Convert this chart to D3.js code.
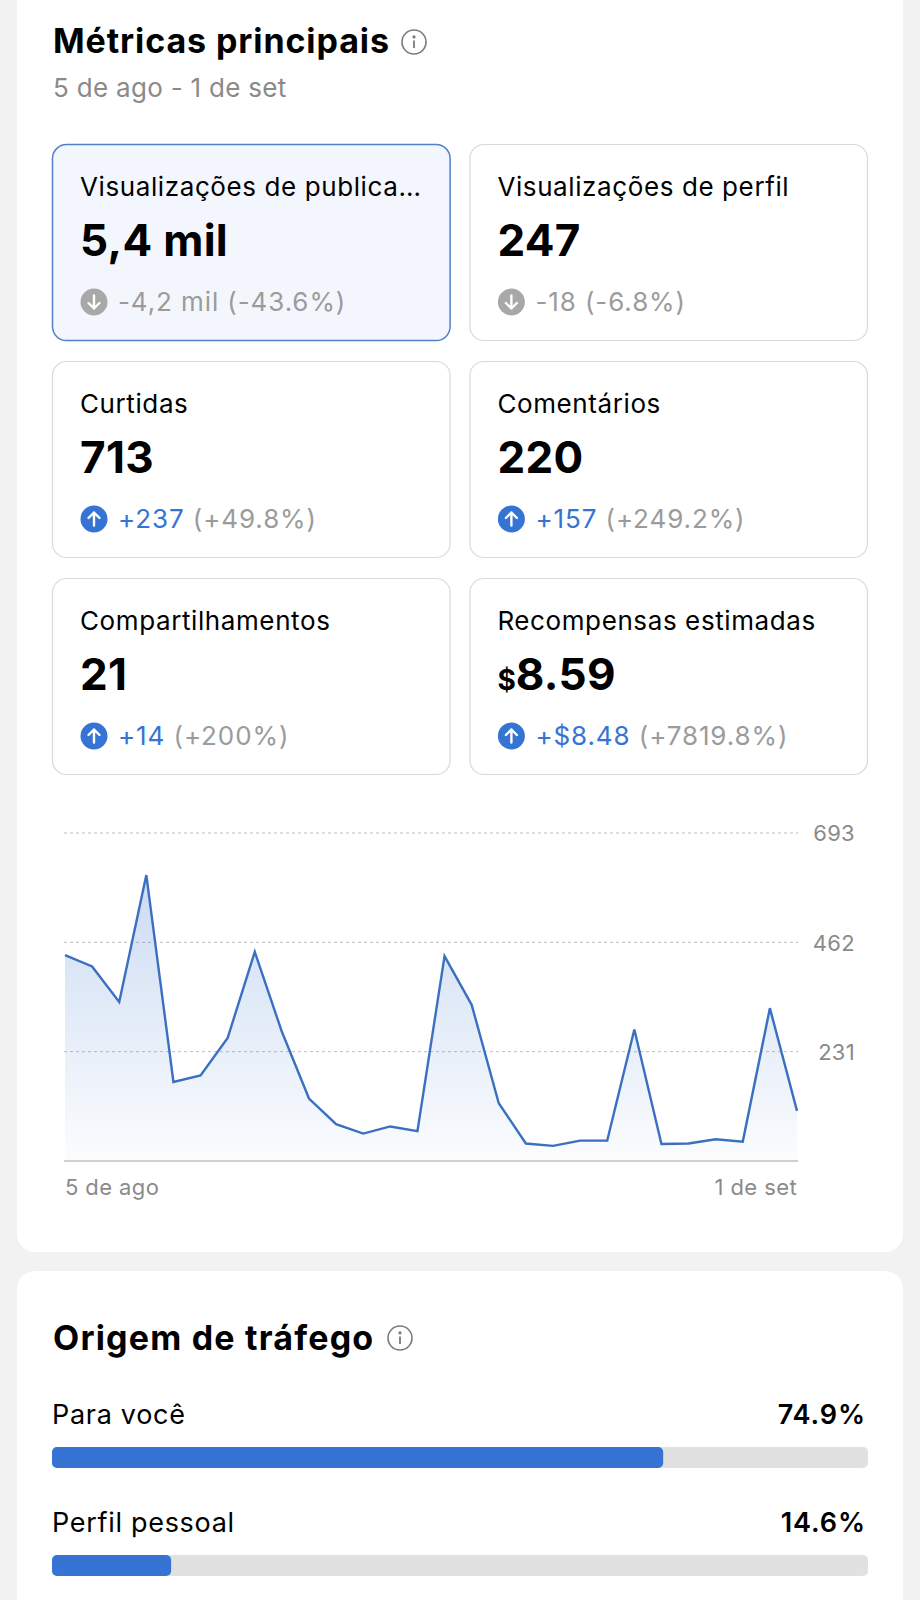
<!DOCTYPE html>
<html>
<head>
<meta charset="utf-8">
<script src="https://cdn.jsdelivr.net/npm/d3@7"></script>
<style>
  html, body { margin: 0; padding: 0; background: #f2f2f2; }
  svg { display: block; font-family: Inter, "Noto Sans", sans-serif; }
</style>
</head>
<body>
<div id="page"></div>
<script>
// ---- data ----
var dayLabels = ['05/08','06/08','07/08','08/08','09/08','10/08','11/08','12/08','13/08','14/08',
                 '15/08','16/08','17/08','18/08','19/08','20/08','21/08','22/08','23/08','24/08',
                 '25/08','26/08','27/08','28/08','29/08','30/08','31/08','01/09'];
var postViews = [435, 411, 336, 604, 167, 181, 260, 442, 273, 132,
                 78, 58, 73, 63, 433, 330, 122, 37, 32, 43,
                 43, 278, 36, 37, 46, 41, 323, 106];
var yTicks = [231, 462, 693];
var xTickLabels = ['5 de ago', '1 de set'];

var metricLabels = ['Visualizações de publica…', 'Visualizações de perfil', 'Curtidas',
                    'Comentários', 'Compartilhamentos', 'Recompensas estimadas'];
var metricValues = ['5,4 mil', '247', '713', '220', '21', '8.59'];
var metricDeltas = ['-4,2 mil', '-18', '+237', '+157', '+14', '+$8.48'];
var metricPcts = ['(-43.6%)', '(-6.8%)', '(+49.8%)', '(+249.2%)', '(+200%)', '(+7819.8%)'];

var trafficSources = ['Para você', 'Perfil pessoal'];
var trafficShares = [74.9, 14.6];

// ---- page ----
var width = 920;
var height = 1600;
var blue = '#3574d4';
var grey = '#9b9b9b';

var svg = d3.select('#page').append('svg')
    .attr('width', width)
    .attr('height', height);

var defs = svg.append('defs');
var grad = defs.append('linearGradient')
    .attr('id', 'areaFill')
    .attr('x1', 0).attr('y1', 0).attr('x2', 0).attr('y2', 1);
grad.append('stop').attr('offset', '0%').attr('stop-color', '#3a76cf').attr('stop-opacity', 0.26);
grad.append('stop').attr('offset', '100%').attr('stop-color', '#3a76cf').attr('stop-opacity', 0.02);

// panels
svg.append('rect')
    .attr('x', 17).attr('y', -30)
    .attr('width', 886).attr('height', 1282)
    .attr('rx', 18).attr('fill', '#fff');
svg.append('rect')
    .attr('x', 17).attr('y', 1271)
    .attr('width', 886).attr('height', 400)
    .attr('rx', 18).attr('fill', '#fff');

function infoIcon(cx, cy, r) {
    var g = svg.append('g').attr('transform', 'translate(' + cx + ',' + cy + ')');
    g.append('circle').attr('r', r).attr('fill', 'none')
        .attr('stroke', '#7a7a7a').attr('stroke-width', 1.6);
    g.append('circle').attr('cx', 0).attr('cy', -r * 0.42).attr('r', 1.6).attr('fill', '#7a7a7a');
    g.append('line').attr('x1', 0).attr('x2', 0)
        .attr('y1', -r * 0.12).attr('y2', r * 0.5)
        .attr('stroke', '#7a7a7a').attr('stroke-width', 1.8);
}

// header
svg.append('text')
    .attr('x', 53).attr('y', 53)
    .attr('font-size', 34).attr('font-weight', 700).attr('fill', '#000')
    .attr('letter-spacing', 0.9)
    .text('Métricas principais');
infoIcon(414, 42, 12);
svg.append('text')
    .attr('x', 53).attr('y', 97)
    .attr('font-size', 26).attr('fill', '#8a8a8a')
    .attr('letter-spacing', 0.3)
    .text('5 de ago - 1 de set');

// ---- metric cards ----
var colX = d3.scaleBand().domain([0, 1]).range([52, 868]).paddingInner(0.045);
var rowY = d3.scaleBand().domain([0, 1, 2]).range([144, 775]).paddingInner(0.092);

var cards = svg.selectAll('.card')
    .data(metricLabels)
  .enter().append('g')
    .attr('class', 'card')
    .attr('transform', function(d, i) {
        return 'translate(' + colX(i % 2) + ',' + rowY(Math.floor(i / 2)) + ')';
    });

cards.append('rect')
    .attr('x', 0.5).attr('y', 0.5)
    .attr('width', colX.bandwidth() - 1)
    .attr('height', rowY.bandwidth() - 1)
    .attr('rx', 14)
    .attr('fill', function(d, i) { return i === 0 ? '#f3f7fd' : '#fff'; })
    .attr('stroke', function(d, i) { return i === 0 ? '#4f80c9' : '#d9d9d9'; })
    .attr('stroke-width', function(d, i) { return i === 0 ? 1.5 : 1.2; });

cards.append('text')
    .attr('x', 28).attr('y', 52)
    .attr('font-size', 26).attr('fill', '#000')
    .attr('letter-spacing', 0.6)
    .text(function(d) { return d; });

var valueText = cards.append('text')
    .attr('x', 28).attr('y', 112)
    .attr('font-weight', 700).attr('fill', '#000');
valueText.filter(function(d, i) { return i === 5; })
  .append('tspan')
    .attr('font-size', 28)
    .text('$');
valueText.append('tspan')
    .attr('font-size', 44)
    .attr('letter-spacing', 0.3)
    .text(function(d, i) { return metricValues[i]; });

// delta icon
var icon = cards.append('g')
    .attr('transform', 'translate(42,158)');
icon.append('circle')
    .attr('r', 13.5)
    .attr('fill', function(d, i) { return metricDeltas[i][0] === '+' ? blue : '#a8a8a8'; });
icon.append('path')
    .attr('d', function(d, i) {
        return metricDeltas[i][0] === '+'
            ? 'M0,6.5V-6.5M-5.5,-1L0,-6.5L5.5,-1'
            : 'M0,-6.5V6.5M-5.5,1L0,6.5L5.5,1';
    })
    .attr('fill', 'none').attr('stroke', '#fff')
    .attr('stroke-width', 2.4).attr('stroke-linecap', 'round').attr('stroke-linejoin', 'round');

var deltaText = cards.append('text')
    .attr('x', 66).attr('y', 167)
    .attr('font-size', 26)
    .attr('letter-spacing', 0.9);
deltaText.append('tspan')
    .attr('fill', function(d, i) { return metricDeltas[i][0] === '+' ? blue : grey; })
    .text(function(d, i) { return metricDeltas[i] + ' '; });
deltaText.append('tspan')
    .attr('fill', grey)
    .text(function(d, i) { return metricPcts[i]; });

// ---- line chart ----
var x = d3.scalePoint().domain(dayLabels).range([65, 797]);
var y = d3.scaleLinear().domain([0, 693]).range([1161, 833]);

var chart = svg.append('g');

chart.selectAll('.grid')
    .data(yTicks)
  .enter().append('line')
    .attr('class', 'grid')
    .attr('x1', 64).attr('x2', 798)
    .attr('y1', function(d) { return y(d); })
    .attr('y2', function(d) { return y(d); })
    .attr('stroke', '#bdbdbd').attr('stroke-width', 1)
    .attr('stroke-dasharray', '3,3');

var yAxis = d3.axisRight(y).tickValues(yTicks).tickSize(0).tickPadding(0);
var yg = chart.append('g')
    .attr('transform', 'translate(855,0)')
    .call(yAxis);
yg.select('.domain').remove();
yg.selectAll('text')
    .attr('text-anchor', 'end')
    .attr('dy', '0.35em')
    .attr('font-family', 'Inter, sans-serif')
    .attr('font-size', 22).attr('fill', '#8a8a8a')
    .attr('letter-spacing', 0.3);

chart.append('path')
    .datum(postViews)
    .attr('d', d3.area()
        .x(function(d, i) { return x(dayLabels[i]); })
        .y0(y(0))
        .y1(function(d) { return y(d); }))
    .attr('fill', 'url(#areaFill)');

chart.append('path')
    .datum(postViews)
    .attr('d', d3.line()
        .x(function(d, i) { return x(dayLabels[i]); })
        .y(function(d) { return y(d); }))
    .attr('fill', 'none')
    .attr('stroke', '#3b6fc0').attr('stroke-width', 2.4)
    .attr('stroke-linejoin', 'miter');

chart.append('line')
    .attr('x1', 64).attr('x2', 798)
    .attr('y1', y(0)).attr('y2', y(0))
    .attr('stroke', '#cfcfcf').attr('stroke-width', 2);

chart.selectAll('.xlab')
    .data(xTickLabels)
  .enter().append('text')
    .attr('class', 'xlab')
    .attr('x', function(d, i) { return i === 0 ? x.range()[0] : x.range()[1]; })
    .attr('y', 1195)
    .attr('text-anchor', function(d, i) { return i === 0 ? 'start' : 'end'; })
    .attr('font-size', 22).attr('fill', '#8a8a8a')
    .attr('letter-spacing', 0.4)
    .text(function(d) { return d; });

// ---- traffic source ----
svg.append('text')
    .attr('x', 53).attr('y', 1350)
    .attr('font-size', 34).attr('font-weight', 700).attr('fill', '#000')
    .attr('letter-spacing', 1.2)
    .text('Origem de tráfego');
infoIcon(400, 1338, 12);

var bx = d3.scaleLinear().domain([0, 100]).range([52, 868]);
var rows = svg.selectAll('.src')
    .data(trafficSources)
  .enter().append('g')
    .attr('class', 'src')
    .attr('transform', function(d, i) { return 'translate(0,' + (1424 + i * 108) + ')'; });

rows.append('text')
    .attr('x', 52).attr('y', 0)
    .attr('font-size', 27).attr('fill', '#000')
    .attr('letter-spacing', 0.7)
    .text(function(d) { return d; });
rows.append('text')
    .attr('x', 866).attr('y', 0)
    .attr('text-anchor', 'end')
    .attr('font-size', 27).attr('font-weight', 600).attr('fill', '#000')
    .attr('letter-spacing', 0.9)
    .text(function(d, i) { return trafficShares[i] + '%'; });
rows.append('rect')
    .attr('x', bx(0)).attr('y', 23)
    .attr('width', bx(100) - bx(0)).attr('height', 21)
    .attr('rx', 5).attr('fill', '#e1e1e1');
rows.append('rect')
    .attr('x', bx(0)).attr('y', 23)
    .attr('width', function(d, i) { return bx(trafficShares[i]) - bx(0); })
    .attr('height', 21)
    .attr('rx', 5).attr('fill', blue);
</script>
</body>
</html>
